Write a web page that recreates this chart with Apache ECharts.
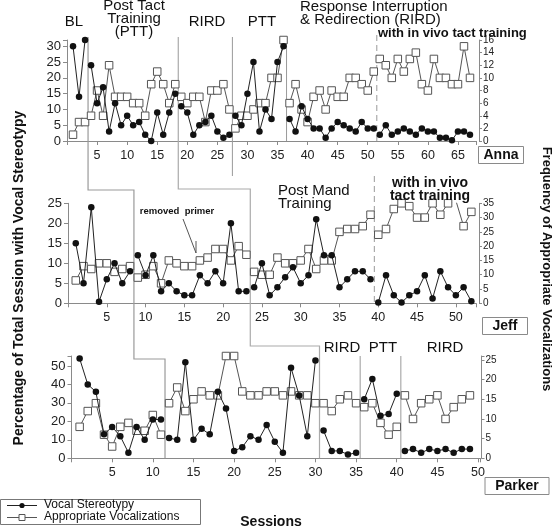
<!DOCTYPE html>
<html><head><meta charset="utf-8">
<script src="https://cdn.jsdelivr.net/npm/echarts@6/dist/echarts.min.js"></script>
<style>html,body{margin:0;padding:0;background:#fff}#c{width:555px;height:532px}</style>
</head><body><div id="c"></div>
<script>
// ---------- data (index i = session i+1) ----------
const annaStereotypy = [30,14,32, 24,12,17,3,12,5,8,5,6,2,0,9,2,9,15, 11,9,2,5,6,8,3,1,2, 8,5,15,25,3,10,7,25,30, 7,3,11,7,4,4,1,4,6,5,4,3,6,4,4, 2,5,2,3,4,3,2,4,3,3,1,1,0.2,3,3,2];
const annaVocal = [1,3,3, 4,8,4,12,7,7,7,6,6,4,9,11,9,6,9, 7,6,7,7,3,8,8,9,5, 2,4,4,5,6,6,10,10,16, 6,9,5,3,7,8,5,8,7,7,10,10,9,8,11, 13,12,10,13,11,13,14,9,8,13,10,10,9,9,15,10];
const annaBreaks = [3.5, 18.5, 27.5, 36.5, 51.5];

const jeffStereotypy = [15,5,24,0.4,6,10,5,8, 12,7,12,3,5,3,2,2,7,5,8,5,20,3,3, 4,10,2,4,6.5,9,5,7,21,12,12,4,6,8,8,6, 0.2,7,2,0.2,2,3,7,1.2,8,4,2,4,0.5];
const jeffVocal = [8,13,12,14,14,11,12,13, 9,10,13,7,15,14,13,13,15,16,19,19,15,20,17, 11,10,10,16,14,14,15,19,12,15,15,25,26,26,27,31, 24,26,33,35,34,30,30,35,31,35,36,27,32];
const jeffBreaks = [8.5, 23.5, 39.5];

const parkerStereotypy = [54,40,36,13,17,12,3,17,10,21,21, 11,10,52,10,16,13,36,27,4,6,12,10,18,9,3,49,34,12,53, 15,4,4,2,3, 32,43,23,24,35, 4,5,3,5,4,5,3,5,5];
const parkerVocal = [8,12,14,6,3,8,9,7,7,11,6, 14,18,12,15,17,16,16,26,26,17,16,16,17,17,16,17,16,16,14, 14,12,15,16,14, 13,14,9,6,8, 16,10,14,15,16,10,13,15,16];
const parkerBreaks = [11.5, 30.5, 35.5, 40.5];

const seriesNames = ['Vocal Stereotypy', 'Appropriate Vocalizations'];
const yTitleLeft = 'Percentage of Total Session with Vocal Stereotypy';
const yTitleRight = 'Frequency of Appropriate Vocalizations';
const xTitle = 'Sessions';

// ---------- layout ----------
const FONT = 'Liberation Sans, Arial, sans-serif';
const panels = [
  {stereo: annaStereotypy, vocal: annaVocal, breaks: annaBreaks, xMax: 68, leftMax: 32, leftInt: 5, rightMax: 16, rightInt: 2,
   grid: {left: 67, top: 40, width: 409, height: 101}, rOff: 3},
  {stereo: jeffStereotypy, vocal: jeffVocal, breaks: jeffBreaks, xMax: 52.6, leftMax: 25, leftInt: 5, rightMax: 35, rightInt: 5,
   grid: {left: 68, top: 203.3, width: 408, height: 100}, rOff: 3},
  {stereo: parkerStereotypy, vocal: parkerVocal, breaks: parkerBreaks, xMax: 50.3, leftMax: 55.4, leftInt: 10, rightMax: 26, rightInt: 5,
   grid: {left: 71.5, top: 356, width: 409, height: 102.3}, rOff: 1}
];

function segments(values, breaks) {
  const segs = []; let cur = []; let b = 0;
  values.forEach((v, i) => {
    const s = i + 1;
    while (b < breaks.length && s > breaks[b]) { if (cur.length) segs.push(cur); cur = []; b++; }
    cur.push([s, v]);
  });
  if (cur.length) segs.push(cur);
  return segs;
}

const grids = [], xAxes = [], yAxes = [], series = [];
const axisColor = '#8a8a8a';
panels.forEach((p, k) => {
  grids.push(Object.assign({containLabel: false}, p.grid));
  xAxes.push({
    type: 'value', gridIndex: k, min: 0, max: p.xMax, interval: 5,
    axisLine: {show: true, lineStyle: {color: axisColor, width: 1}},
    axisTick: {show: true, length: 4, lineStyle: {color: axisColor}},
    splitLine: {show: false},
    axisLabel: {fontFamily: FONT, fontSize: 12.5, color: '#222', margin: 8,
      formatter: v => (v > 0 && v % 5 === 0) ? String(v) : ''}
  });
  yAxes.push({
    type: 'value', gridIndex: k, position: 'left', min: 0, max: p.leftMax, interval: p.leftInt,
    axisLine: {show: true, lineStyle: {color: axisColor, width: 1}},
    axisTick: {show: true, length: 4, lineStyle: {color: axisColor}},
    splitLine: {show: false},
    axisLabel: {fontFamily: FONT, fontSize: 13, color: '#222', margin: 6,
      formatter: v => (v % p.leftInt === 0) ? String(v) : ''}
  });
  yAxes.push({
    type: 'value', gridIndex: k, position: 'right', offset: p.rOff, min: 0, max: p.rightMax, interval: p.rightInt,
    axisLine: {show: true, lineStyle: {color: axisColor, width: 1}},
    axisTick: {show: true, length: 3, lineStyle: {color: axisColor}},
    splitLine: {show: false},
    axisLabel: {fontFamily: FONT, fontSize: 10, color: '#222', margin: 4,
      formatter: v => (v % p.rightInt === 0) ? String(v) : ''}
  });
  segments(p.vocal, p.breaks).forEach(seg => series.push({
    name: seriesNames[1], type: 'line', xAxisIndex: k, yAxisIndex: 2 * k + 1, data: seg,
    symbol: 'rect', symbolSize: 7.5, z: 2, animation: false,
    itemStyle: {color: '#fff', borderColor: '#555', borderWidth: 1},
    lineStyle: {color: '#555', width: 1}
  }));
  segments(p.stereo, p.breaks).forEach(seg => series.push({
    name: seriesNames[0], type: 'line', xAxisIndex: k, yAxisIndex: 2 * k, data: seg,
    symbol: 'circle', symbolSize: 6.5, z: 3, animation: false,
    itemStyle: {color: '#111', borderColor: '#111', borderWidth: 0},
    lineStyle: {color: '#222', width: 1}
  }));
});

const chart = echarts.init(document.getElementById('c'), null, {renderer: 'canvas'});
chart.setOption({
  backgroundColor: '#fff', animation: false,
  grid: grids, xAxis: xAxes, yAxis: yAxes, series: series
});

// ---------- phase lines & annotations ----------
const ax = v => chart.convertToPixel({xAxisIndex: 0}, v);
const jx = v => chart.convertToPixel({xAxisIndex: 1}, v);
const px = v => chart.convertToPixel({xAxisIndex: 2}, v);
const aBot = chart.convertToPixel({yAxisIndex: 0}, 0);
const jBot = chart.convertToPixel({yAxisIndex: 2}, 0);
const pBot = chart.convertToPixel({yAxisIndex: 4}, 0);
const lineCol = '#9a9a9a';
const G = [];
function poly(points, w, dash, col) {
  G.push({type: 'polyline', shape: {points: points}, silent: true, z: 1,
    style: {stroke: col || lineCol, lineWidth: w || 1, fill: null, lineDash: dash || null}});
}
// staircase lines linking the three baselines
poly([[ax(3.5), 37], [ax(3.5), 190], [jx(8.5), 190], [jx(8.5), 359], [px(11.5), 359], [px(11.5), pBot]], 1.2);
poly([[ax(18.5), 37], [ax(18.5), 189], [jx(23.5), 189], [jx(23.5), 346], [px(30.5), 346], [px(30.5), pBot]], 1.2, null, '#aaa');
poly([[ax(27.5), 37], [ax(27.5), 176]], 1);
poly([[ax(36.5), 37], [ax(36.5), aBot]], 1);
poly([[ax(51.5), 35], [ax(51.5), aBot]], 1.2, [6, 4], '#aaa');
poly([[jx(39.5), 176], [jx(39.5), jBot]], 1.2, [6, 4], '#aaa');
poly([[px(35.5), 356], [px(35.5), pBot]], 1);
poly([[px(40.5), 356], [px(40.5), pBot]], 1.2, null, '#aaa');

function txt(text, x, y, font, align, extra) {
  G.push(Object.assign({type: 'text', silent: true, z: 10, x: x, y: y,
    style: {text: text, font: font, fill: '#111', textAlign: align || 'center', align: align || 'center',
      textVerticalAlign: 'middle', verticalAlign: 'middle'}}, extra || {}));
}
const F15 = '15px ' + FONT;
// Anna phase labels
txt('BL', 74, 22, F15);
txt('Post Tact', 134, 6, F15);
txt('Training', 134, 19, F15);
txt('(PTT)', 134, 32, F15);
txt('RIRD', 207, 22, F15);
txt('PTT', 262, 22, F15);
txt('Response Interruption', 300, 7, F15, 'left');
txt('& Redirection (RIRD)', 300, 20, F15, 'left');
txt('with in vivo tact training', 378, 33, 'bold 13px ' + FONT, 'left');
// Jeff
txt('removed  primer', 177, 211, 'bold 9.5px ' + FONT);
poly([[183, 219], [196, 253]], 1, null, '#555');
poly([[196, 241], [196, 253]], 1, null, '#555');
txt('Post Mand', 278, 191, F15, 'left');
txt('Training', 278, 204, F15, 'left');
txt('with in vivo', 430, 183, 'bold 14px ' + FONT);
txt('tact training', 430, 196, 'bold 14px ' + FONT);
// Parker
txt('RIRD', 342, 348, F15);
txt('PTT', 383, 348, F15);
txt('RIRD', 445, 348, F15);
// name boxes
function box(name, cx, cy, w) {
  G.push({type: 'rect', silent: true, z: 9, shape: {x: cx - w / 2, y: cy - 8.5, width: w, height: 17},
    style: {fill: '#fff', stroke: '#8a8a8a', lineWidth: 1}});
  txt(name, cx, cy, 'bold 14px ' + FONT);
}
box('Anna', 501, 155, 45);
box('Jeff', 505, 326, 45);
box('Parker', 517, 486, 64);
// axis titles
txt(yTitleLeft, 19, 278, 'bold 14px ' + FONT, 'center', {rotation: Math.PI / 2});
txt(yTitleRight, 547, 269, 'bold 13px ' + FONT, 'center', {rotation: -Math.PI / 2});
txt(xTitle, 271, 522, 'bold 14px ' + FONT);
// legend
G.push({type: 'rect', silent: true, z: 9, shape: {x: 0.5, y: 499.5, width: 200, height: 25},
  style: {fill: '#fff', stroke: '#777', lineWidth: 1}});
G.push({type: 'line', silent: true, z: 10, shape: {x1: 7, y1: 505.5, x2: 37, y2: 505.5}, style: {stroke: '#222', lineWidth: 1}});
G.push({type: 'circle', silent: true, z: 11, shape: {cx: 22, cy: 505.5, r: 2.6}, style: {fill: '#111'}});
G.push({type: 'line', silent: true, z: 10, shape: {x1: 7, y1: 517.5, x2: 37, y2: 517.5}, style: {stroke: '#555', lineWidth: 1}});
G.push({type: 'rect', silent: true, z: 11, shape: {x: 19, y: 514.5, width: 6, height: 6}, style: {fill: '#fff', stroke: '#555', lineWidth: 1}});
txt(seriesNames[0], 44, 505, '12px ' + FONT, 'left');
txt(seriesNames[1], 44, 517, '12px ' + FONT, 'left');

chart.setOption({graphic: {elements: G}});
</script></body></html>
